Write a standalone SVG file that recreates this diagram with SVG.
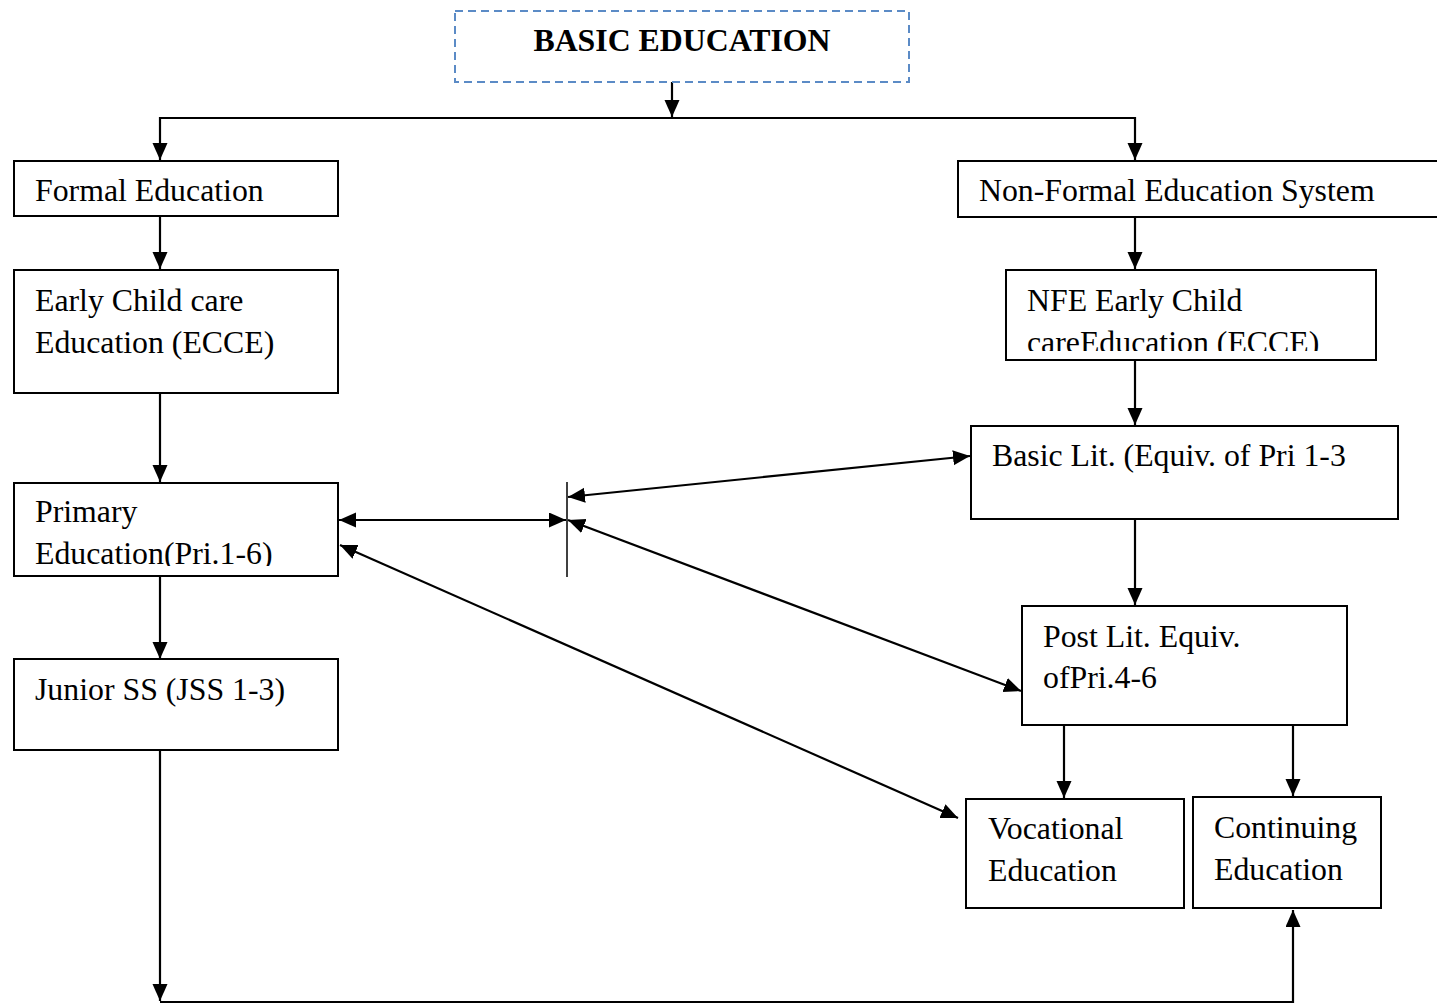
<svg xmlns="http://www.w3.org/2000/svg" width="1437" height="1005" viewBox="0 0 1437 1005">
<style>
.box{fill:#fff;stroke:#000;stroke-width:2}
.t{font-family:"Liberation Serif","Times New Roman",serif;font-size:31.8px;fill:#000}
.c{fill:none;stroke:#000;stroke-width:2.2}
</style>
<defs>
<marker id="ah" markerUnits="userSpaceOnUse" markerWidth="18" markerHeight="16" refX="17" refY="7.5" orient="auto-start-reverse">
<path d="M0,0 L17,7.5 L0,15 z" fill="#000"/>
</marker>
<clipPath id="clipNfe"><rect x="1006" y="270" width="370" height="81"/></clipPath>
<clipPath id="clipPri"><rect x="14" y="483" width="324" height="83"/></clipPath>
</defs>
<rect width="1437" height="1005" fill="#fff"/>

<g id="connectors">
<line class="c" x1="672" y1="82" x2="672" y2="117" marker-end="url(#ah)"/>
<line class="c" x1="160" y1="118" x2="1135" y2="118"/>
<line class="c" x1="160" y1="117" x2="160" y2="160" marker-end="url(#ah)"/>
<line class="c" x1="1135" y1="117" x2="1135" y2="160" marker-end="url(#ah)"/>
<line class="c" x1="160" y1="216" x2="160" y2="269" marker-end="url(#ah)"/>
<line class="c" x1="160" y1="393" x2="160" y2="482" marker-end="url(#ah)"/>
<line class="c" x1="160" y1="576" x2="160" y2="659" marker-end="url(#ah)"/>
<line class="c" x1="1135" y1="217" x2="1135" y2="269" marker-end="url(#ah)"/>
<line class="c" x1="1135" y1="360" x2="1135" y2="425" marker-end="url(#ah)"/>
<line class="c" x1="1135" y1="519" x2="1135" y2="605" marker-end="url(#ah)"/>
<line class="c" x1="1064" y1="725" x2="1064" y2="798" marker-end="url(#ah)"/>
<line class="c" x1="1293" y1="725" x2="1293" y2="796" marker-end="url(#ah)"/>
<line class="c" x1="160" y1="743" x2="160" y2="1001" marker-end="url(#ah)"/>
<polyline class="c" points="160,1002 1293,1002 1293,910" marker-end="url(#ah)"/>
<line x1="567" y1="482" x2="567" y2="577" stroke="#000" stroke-width="1.5"/>
<line class="c" x1="339" y1="520" x2="566" y2="520" marker-start="url(#ah)" marker-end="url(#ah)"/>
<line class="c" x1="568" y1="497" x2="970" y2="456" marker-start="url(#ah)" marker-end="url(#ah)"/>
<line class="c" x1="568" y1="520" x2="1021" y2="691" marker-start="url(#ah)" marker-end="url(#ah)"/>
<line class="c" x1="340" y1="545" x2="958" y2="818" marker-start="url(#ah)" marker-end="url(#ah)"/>
</g>

<g id="basic-education">
<rect x="455" y="11" width="454" height="71" fill="#fff" stroke="#5B8BC6" stroke-width="2" stroke-dasharray="8,5"/>
<text x="682" y="51" text-anchor="middle" font-family="Liberation Serif,'Times New Roman',serif" font-size="31.8" font-weight="bold">BASIC EDUCATION</text>
</g>

<g id="formal-education">
<rect class="box" x="14" y="161" width="324" height="55"/>
<text class="t" x="35" y="201">Formal Education</text>
</g>

<g id="non-formal-education">
<rect class="box" x="958" y="161" width="485" height="56"/>
<text class="t" x="979" y="201">Non-Formal Education System</text>
</g>

<g id="ecce">
<rect class="box" x="14" y="270" width="324" height="123"/>
<text class="t" x="35" y="311">Early Child care</text>
<text class="t" x="35" y="353">Education (ECCE)</text>
</g>

<g id="nfe-ecce">
<rect class="box" x="1006" y="270" width="370" height="90"/>
<g clip-path="url(#clipNfe)">
<text class="t" x="1027" y="311">NFE Early Child</text>
<text class="t" x="1027" y="353">careEducation (ECCE)</text>
</g>
</g>

<g id="basic-lit">
<rect class="box" x="971" y="426" width="427" height="93"/>
<text class="t" x="992" y="466">Basic Lit. (Equiv. of Pri 1-3</text>
</g>

<g id="primary">
<rect class="box" x="14" y="483" width="324" height="93"/>
<g clip-path="url(#clipPri)">
<text class="t" x="35" y="522">Primary</text>
<text class="t" x="35" y="564">Education(Pri.1-6)</text>
</g>
</g>

<g id="jss">
<rect class="box" x="14" y="659" width="324" height="91"/>
<text class="t" x="35" y="700">Junior SS (JSS 1-3)</text>
</g>

<g id="post-lit">
<rect class="box" x="1022" y="606" width="325" height="119"/>
<text class="t" x="1043" y="647">Post Lit. Equiv.</text>
<text class="t" x="1043" y="688">ofPri.4-6</text>
</g>

<g id="vocational">
<rect class="box" x="966" y="799" width="218" height="109"/>
<text class="t" x="988" y="839">Vocational</text>
<text class="t" x="988" y="881">Education</text>
</g>

<g id="continuing">
<rect class="box" x="1193" y="797" width="188" height="111"/>
<text class="t" x="1214" y="838">Continuing</text>
<text class="t" x="1214" y="880">Education</text>
</g>
</svg>
